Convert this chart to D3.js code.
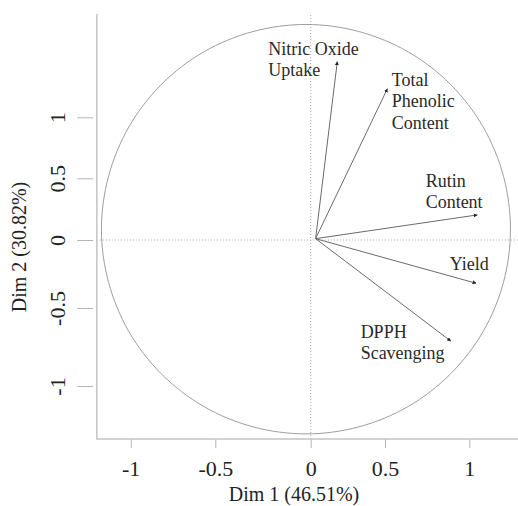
<!DOCTYPE html>
<html>
<head>
<meta charset="utf-8">
<script src="https://cdn.jsdelivr.net/npm/d3@7"></script>
<style>
  body { margin: 0; background: #fff; }
  svg text { font-family: "Liberation Serif", "Times New Roman", serif; }
</style>
</head>
<body>
<div id="plot"></div>
<script>
var width = 518;
var height = 506;

// axis ticks (the tick marks on this chart are not evenly spaced)
var xTicks = [-1, -0.5, 0, 0.5, 1];
var yTicks = [-1, -0.5, 0, 0.5, 1];
var xLim = [-1.2, 1.29];
var yLim = [-1.34, 1.847];

var xTitle = 'Dim 1 (46.51%)';
var yTitle = 'Dim 2 (30.82%)';

// variable arrows (in axis units)
var varNames = [['Nitric Oxide', 'Uptake'], ['Total', 'Phenolic', 'Content'], ['Rutin', 'Content'], ['Yield'], ['DPPH', 'Scavenging']];
var varX = [0.179, 0.514, 1.047, 1.04, 0.89];
var varY = [1.456, 1.234, 0.203, -0.318, -0.712];
var labelX = [-0.222, 0.54, 0.741, 0.884, 0.336];
var labelY = [1.514, 1.257, 0.43, -0.221, -0.692];
var arrowOrigin = [0.033, 0.011];

// correlation circle outline, as it sits against the axes
var circlePts = [
    [1.244, 0.088], [1.203, 0.516], [1.082, 0.921], [0.889, 1.269],
    [0.638, 1.536], [0.324, 1.703], [-0.025, 1.761], [-0.302, 1.703],
    [-0.569, 1.536], [-0.819, 1.269], [-1.011, 0.921], [-1.131, 0.516],
    [-1.173, 0.088], [-1.131, -0.310], [-1.011, -0.651], [-0.819, -0.922],
    [-0.569, -1.131], [-0.302, -1.262], [-0.025, -1.307], [0.324, -1.262],
    [0.638, -1.131], [0.889, -0.922], [1.082, -0.651], [1.203, -0.310]
];

var canvas = d3.select('#plot')
    .append('svg')
    .attr('width', width)
    .attr('height', height);

var x = d3.scaleLinear()
    .domain(xTicks)
    .range([130.7, 215.3, 310.7, 385, 469.3]);

var y = d3.scaleLinear()
    .domain(yTicks)
    .range([386, 308, 240, 178.3, 117.3]);

canvas.append('defs').append('marker')
    .attr('id', 'tip')
    .attr('viewBox', '0 0 10 10')
    .attr('refX', 9)
    .attr('refY', 5)
    .attr('markerWidth', 4)
    .attr('markerHeight', 4)
    .attr('markerUnits', 'userSpaceOnUse')
    .attr('orient', 'auto')
    .append('path')
    .attr('d', 'M0,0L10,5L0,10Z')
    .attr('fill', '#222');

// dotted zero lines
canvas.append('line')
    .attr('x1', x(xLim[0])).attr('x2', x(xLim[1]))
    .attr('y1', y(0)).attr('y2', y(0))
    .attr('stroke', '#a8a8a8')
    .attr('stroke-width', 1)
    .attr('stroke-dasharray', '1,2');
canvas.append('line')
    .attr('x1', x(0)).attr('x2', x(0))
    .attr('y1', y(yLim[0])).attr('y2', y(yLim[1]))
    .attr('stroke', '#a8a8a8')
    .attr('stroke-width', 1)
    .attr('stroke-dasharray', '1,2');

// circle
var circle_gen = d3.line()
    .curve(d3.curveCatmullRomClosed)
    .x(function(d) { return x(d[0]); })
    .y(function(d) { return y(d[1]); });
canvas.append('path')
    .attr('d', circle_gen(circlePts))
    .attr('fill', 'none')
    .attr('stroke', '#9e9e9e')
    .attr('stroke-width', 1);

// arrows
canvas.selectAll('line.arrow')
    .data(varX)
    .enter()
    .append('line')
    .attr('class', 'arrow')
    .attr('x1', x(arrowOrigin[0]))
    .attr('y1', y(arrowOrigin[1]))
    .attr('x2', function(d) { return x(d); })
    .attr('y2', function(d, i) { return y(varY[i]); })
    .attr('stroke', '#6a6a6a')
    .attr('stroke-width', 1)
    .attr('marker-end', 'url(#tip)');

// arrow labels
var labels = canvas.selectAll('text.varlabel')
    .data(varNames)
    .enter()
    .append('text')
    .attr('class', 'varlabel')
    .attr('x', function(d, i) { return x(labelX[i]); })
    .attr('y', function(d, i) { return y(labelY[i]); })
    .attr('font-size', 18)
    .attr('fill', '#2a2a2a');
labels.each(function(d, i) {
    var t = d3.select(this);
    d.forEach(function(line, j) {
        t.append('tspan')
            .attr('x', x(labelX[i]))
            .attr('dy', j === 0 ? 0 : '1.19em')
            .text(line);
    });
});

// axes
var xAxis = canvas.append('g')
    .attr('transform', 'translate(0,' + y(yLim[0]) + ')')
    .call(d3.axisBottom(x).tickValues(xTicks).tickSize(9).tickFormat(function(d) { return String(d); }));
xAxis.select('.domain').remove();
xAxis.selectAll('.tick line').attr('stroke', '#b5b5b5');
xAxis.selectAll('.tick text')
    .attr('y', 37)
    .attr('dy', null)
    .attr('font-size', 22)
    .attr('fill', '#222');

var yAxisX = x(xLim[0]) - 3.7;
var yAxis = canvas.append('g')
    .attr('transform', 'translate(' + yAxisX + ',0)')
    .call(d3.axisLeft(y).tickValues(yTicks).tickSize(16).tickFormat(function(d) { return String(d); }));
yAxis.select('.domain').remove();
yAxis.selectAll('.tick line').attr('stroke', '#b5b5b5');
yAxis.selectAll('.tick text')
    .attr('transform', 'rotate(-90)')
    .attr('x', 0)
    .attr('y', -28.5)
    .attr('dy', null)
    .attr('text-anchor', 'middle')
    .attr('font-size', 22)
    .attr('fill', '#222');

// spines
canvas.append('path')
    .attr('d', d3.line()([
        [x(xLim[0]), y(yLim[1])],
        [x(xLim[0]), y(yLim[0])],
        [x(xLim[1]), y(yLim[0])]
    ]))
    .attr('fill', 'none')
    .attr('stroke', '#c4c4c4')
    .attr('stroke-width', 1.5);

// titles
canvas.append('text')
    .attr('x', 294)
    .attr('y', 501)
    .attr('text-anchor', 'middle')
    .attr('font-size', 20)
    .attr('fill', '#222')
    .text(xTitle);

canvas.append('text')
    .attr('transform', 'translate(26,247) rotate(-90)')
    .attr('text-anchor', 'middle')
    .attr('font-size', 20)
    .attr('fill', '#222')
    .text(yTitle);
</script>
</body>
</html>
